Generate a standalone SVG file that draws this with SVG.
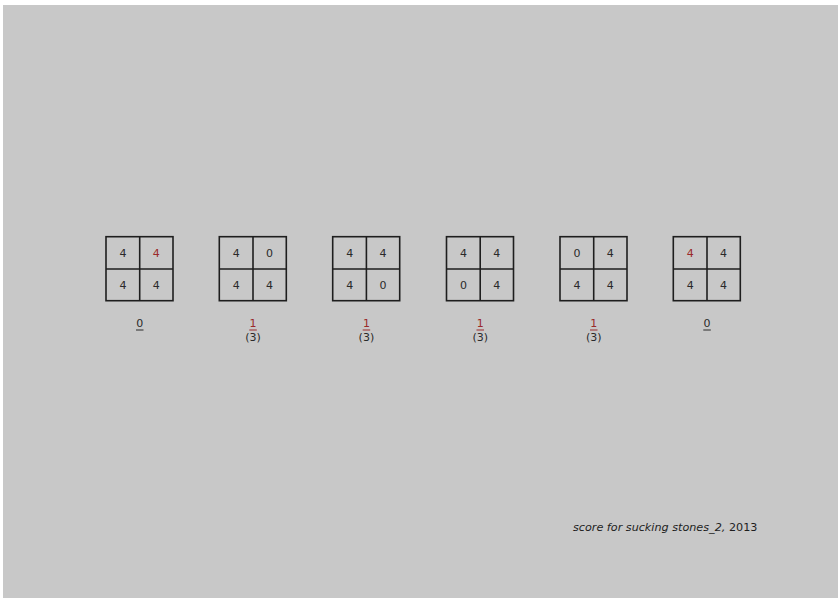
<svg xmlns="http://www.w3.org/2000/svg" width="838" height="598" viewBox="0 0 838 598">
<style>
.g{fill:none;stroke:#1e1e1e;stroke-width:1.6}
.t{font-family:"DejaVu Sans",sans-serif;font-size:11px;fill:#2a2a2a;text-anchor:middle}
.r{fill:#9a2a2a}
</style>
<defs>
<g id="grid"><rect class="g" x="0" y="0" width="67" height="64"/><line class="g" x1="33.7" y1="0" x2="33.7" y2="64"/><line class="g" x1="0" y1="32.3" x2="67" y2="32.3"/></g>
</defs>
<rect x="0" y="0" width="838" height="598" fill="#ffffff"/>
<rect x="3" y="5" width="835" height="593" fill="#c8c8c8"/>
<g id="b1" transform="translate(106,236.7)"><use href="#grid"/><text class="t" x="17" y="20.5">4</text><text class="t r" x="50.3" y="20.5">4</text><text class="t" x="17" y="52.5">4</text><text class="t" x="50.3" y="52.5">4</text><text class="t" x="33.7" y="90.5">0</text><line x1="30" y1="93.3" x2="37.5" y2="93.3" stroke="#2a2a2a"/></g>
<g id="b2" transform="translate(219.3,236.7)"><use href="#grid"/><text class="t" x="17" y="20.5">4</text><text class="t" x="50.3" y="20.5">0</text><text class="t" x="17" y="52.5">4</text><text class="t" x="50.3" y="52.5">4</text><text class="t r" x="33.7" y="90.5">1</text><line x1="30" y1="93.3" x2="37.5" y2="93.3" stroke="#9a2a2a"/><text class="t" x="33.7" y="104.5">(3)</text></g>
<g id="b3" transform="translate(332.7,236.7)"><use href="#grid"/><text class="t" x="17" y="20.5">4</text><text class="t" x="50.3" y="20.5">4</text><text class="t" x="17" y="52.5">4</text><text class="t" x="50.3" y="52.5">0</text><text class="t r" x="33.7" y="90.5">1</text><line x1="30" y1="93.3" x2="37.5" y2="93.3" stroke="#9a2a2a"/><text class="t" x="33.7" y="104.5">(3)</text></g>
<g id="b4" transform="translate(446.5,236.7)"><use href="#grid"/><text class="t" x="17" y="20.5">4</text><text class="t" x="50.3" y="20.5">4</text><text class="t" x="17" y="52.5">0</text><text class="t" x="50.3" y="52.5">4</text><text class="t r" x="33.7" y="90.5">1</text><line x1="30" y1="93.3" x2="37.5" y2="93.3" stroke="#9a2a2a"/><text class="t" x="33.7" y="104.5">(3)</text></g>
<g id="b5" transform="translate(560,236.7)"><use href="#grid"/><text class="t" x="17" y="20.5">0</text><text class="t" x="50.3" y="20.5">4</text><text class="t" x="17" y="52.5">4</text><text class="t" x="50.3" y="52.5">4</text><text class="t r" x="33.7" y="90.5">1</text><line x1="30" y1="93.3" x2="37.5" y2="93.3" stroke="#9a2a2a"/><text class="t" x="33.7" y="104.5">(3)</text></g>
<g id="b6" transform="translate(673.3,236.7)"><use href="#grid"/><text class="t r" x="17" y="20.5">4</text><text class="t" x="50.3" y="20.5">4</text><text class="t" x="17" y="52.5">4</text><text class="t" x="50.3" y="52.5">4</text><text class="t" x="33.7" y="90.5">0</text><line x1="30" y1="93.3" x2="37.5" y2="93.3" stroke="#2a2a2a"/></g>
<g id="connectors"/>
<text x="573" y="531" font-family="DejaVu Sans,sans-serif" font-size="11.2" fill="#1e1e1e"><tspan font-style="italic">score for sucking stones_2,</tspan> 2013</text>
</svg>
